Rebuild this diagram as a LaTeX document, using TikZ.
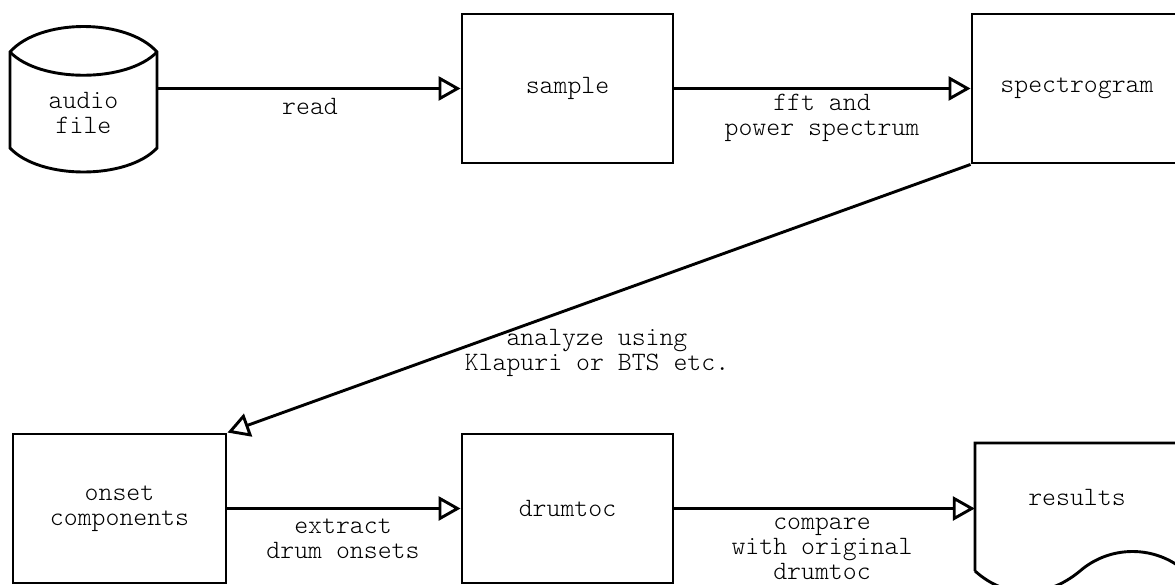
\documentclass[tikz,border=0pt]{standalone}
\usepackage{fontspec}
\setmainfont{Latin Modern Mono Light}
\usetikzlibrary{arrows.meta}
\begin{document}
\begin{tikzpicture}[x=1pt,y=-1pt,
  every node/.style={font=\fontsize{26.5}{25}\selectfont, align=center, inner sep=0pt},
  stepbox/.style={draw, line width=2.9pt, minimum width=211pt, minimum height=149pt},
  flow/.style={line width=2.9pt, -{Triangle[open, length=22pt, width=24pt, line width=2.9pt]}},
  outline/.style={line width=2.9pt, line join=miter}]
\useasboundingbox (0,0) rectangle (1175,584);
\clip (0,0) rectangle (1175,584);

% audio file (storage cylinder)
\node[minimum width=147pt, minimum height=145pt] (audio) at (83.5,99.5) {};
\draw[outline] (10,52) .. controls (40,18) and (127,18) .. (157,52)
  -- (157,148) .. controls (127,180) and (40,180) .. (10,148) -- cycle;
\draw[outline] (10,52) .. controls (40,83) and (127,83) .. (157,52);
\node (audiolabel) at (83.5,113) {audio\\file};

% processing steps
\node[stepbox] (sample) at (567.5,88.5) {sample};
\node[stepbox, minimum width=210pt] (spectrogram) at (1077,88.5) {spectrogram};
\node[stepbox, minimum width=213pt] (onset) at (119.5,508.5) {onset\\components};
\node[stepbox] (drumtoc) at (567.5,508.5) {drumtoc};

% results (document shape)
\node[minimum width=210pt, minimum height=151pt] (results) at (1080,518.5) {};
\draw[outline] (975,571) -- (975,443) -- (1185,443) -- (1185,571)
  .. controls (1155,545) and (1110,545) .. (1080,571)
  .. controls (1045,600) and (1005,598) .. (975,571);
\node (resultslabel) at (1077,497) {results};

% connectors
\draw[flow] (audio.east |- sample.west) -- (sample.west);
\draw[flow] (sample.east) -- (spectrogram.west);
\draw[flow] (spectrogram.south west) -- (onset.north east);
\draw[flow] (onset.east) -- (drumtoc.west);
\draw[flow] (drumtoc.east) -- (drumtoc.east -| results.west);

% connector labels
\node (readlabel) at (310,106) {read};
\node (fftlabel) at (822,118) {fft and\\power spectrum};
\node (analyzelabel) at (597,353) {analyze using\\Klapuri or BTS etc.};
\node (extractlabel) at (343,539) {extract\\drum onsets};
\node (comparelabel) at (822,549) {compare\\with original\\drumtoc};
\end{tikzpicture}
\end{document}
